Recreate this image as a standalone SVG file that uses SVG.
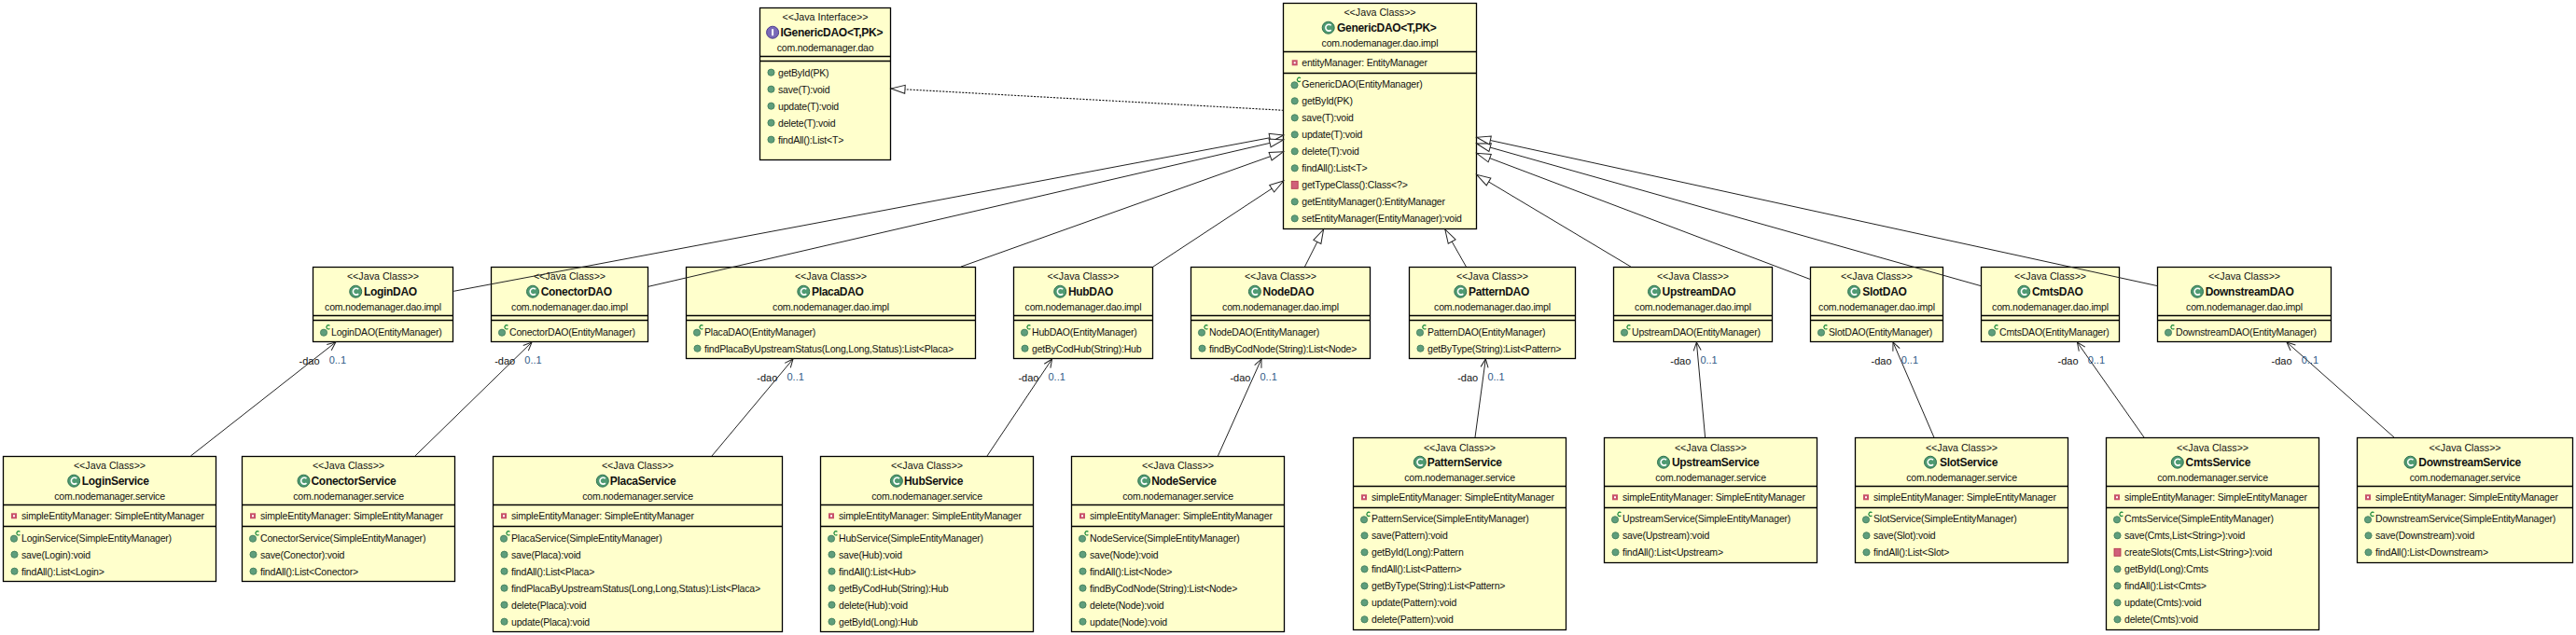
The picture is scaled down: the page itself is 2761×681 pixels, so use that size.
<svg xmlns="http://www.w3.org/2000/svg" width="2761" height="681" viewBox="0 0 2761 681">
<style>
text{font-family:"Liberation Sans",Arial,sans-serif;font-size:10.5px;letter-spacing:-.2px;fill:#111}
.c,.s{text-anchor:middle}
.s{font-size:10.7px;letter-spacing:0}
.n{font-weight:bold;font-size:12px;letter-spacing:-.3px}
.l,.m{font-size:11px;letter-spacing:0}
.m{fill:#2f5a86}
.box{fill:#ffc;stroke:#000;stroke-width:1.3}
.sep{stroke:#000;stroke-width:1.3}
.gen{fill:none;stroke:#222;stroke-width:1;marker-end:url(#tri)}
.real{fill:none;stroke:#111;stroke-width:1.1;stroke-dasharray:2 1.5;marker-end:url(#tri)}
.nav{fill:none;stroke:#222;stroke-width:1;marker-end:url(#open)}
</style>
<defs>
<marker id="tri" markerUnits="userSpaceOnUse" markerWidth="18" markerHeight="12" refX="16" refY="6" orient="auto"><path d="M16,6 L1,1.5 L1,10.5 Z" fill="#fff" stroke="#222"/></marker>
<marker id="open" markerUnits="userSpaceOnUse" markerWidth="12" markerHeight="12" refX="11" refY="6" orient="auto"><path d="M2,2 L11,6 L2,10" fill="none" stroke="#222"/></marker>
<g id="pub"><circle r="3.6" fill="#5f9e7c" stroke="#3d7a58" stroke-width="0.8"/></g>
<g id="ctor"><circle r="3.6" cy="1" fill="#5f9e7c" stroke="#3d7a58" stroke-width="0.8"/><path d="M6.4,-6.4 A2,2.2 0 1 0 6.4,-3.4" fill="none" stroke="#1a8a3a" stroke-width="1.2"/></g>
<g id="fld"><rect x="-3" y="-3" width="6" height="6" fill="#c8506a"/><rect x="-1" y="-1" width="2" height="2" fill="#fff"/></g>
<g id="prv"><rect x="-3.5" y="-4" width="7" height="8" fill="#d0607a" stroke="#b03048" stroke-width="0.8"/></g>
<g id="cls"><circle r="6.5" fill="#4f9a72" stroke="#2f7050"/><path d="M3,-2.4 A3.4,3.4 0 1 0 3,2.4" fill="none" stroke="#fff" stroke-width="1.6"/></g>
<g id="ifc"><circle r="6.5" fill="#7a6ab8" stroke="#4a3a90"/><path d="M0,-3.5 V3.5" stroke="#fff" stroke-width="2"/></g>
</defs>

<g id="IGenericDAO">
<rect class="box" x="814.5" y="8.5" width="140" height="163"/>
<line class="sep" x1="814.5" x2="954.5" y1="60.5" y2="60.5"/><line class="sep" x1="814.5" x2="954.5" y1="65.5" y2="65.5"/>
<text class="s" x="884.5" y="22">&lt;&lt;Java Interface&gt;&gt;</text>
<use href="#ifc" x="828.1" y="34.7"/><text class="n" x="836.5" y="39">IGenericDAO&lt;T,PK&gt;</text>
<text class="c" x="884.5" y="55">com.nodemanager.dao</text>
<use href="#pub" x="826.5" y="77.7"/><text x="834" y="81.7">getById(PK)</text>
<use href="#pub" x="826.5" y="95.7"/><text x="834" y="99.7">save(T):void</text>
<use href="#pub" x="826.5" y="113.7"/><text x="834" y="117.7">update(T):void</text>
<use href="#pub" x="826.5" y="131.7"/><text x="834" y="135.7">delete(T):void</text>
<use href="#pub" x="826.5" y="149.7"/><text x="834" y="153.7">findAll():List&lt;T&gt;</text>
</g>

<g id="GenericDAO">
<rect class="box" x="1375.5" y="3.5" width="207" height="242"/>
<line class="sep" x1="1375.5" x2="1582.5" y1="55.5" y2="55.5"/><line class="sep" x1="1375.5" x2="1582.5" y1="78.5" y2="78.5"/>
<text class="s" x="1479" y="17">&lt;&lt;Java Class&gt;&gt;</text>
<use href="#cls" x="1423.7" y="29.7"/><text class="n" x="1433" y="34">GenericDAO&lt;T,PK&gt;</text>
<text class="c" x="1479" y="50">com.nodemanager.dao.impl</text>
<use href="#fld" x="1387.7" y="67.3"/><text x="1395.3" y="71.3">entityManager: EntityManager</text>
<use href="#ctor" x="1387.5" y="90.3"/><text x="1395.3" y="94.3">GenericDAO(EntityManager)</text>
<use href="#pub" x="1387.7" y="108.3"/><text x="1395.3" y="112.3">getById(PK)</text>
<use href="#pub" x="1387.7" y="126.3"/><text x="1395.3" y="130.3">save(T):void</text>
<use href="#pub" x="1387.7" y="144.3"/><text x="1395.3" y="148.3">update(T):void</text>
<use href="#pub" x="1387.7" y="162.3"/><text x="1395.3" y="166.3">delete(T):void</text>
<use href="#pub" x="1387.7" y="180.3"/><text x="1395.3" y="184.3">findAll():List&lt;T&gt;</text>
<use href="#prv" x="1387.7" y="198.3"/><text x="1395.3" y="202.3">getTypeClass():Class&lt;?&gt;</text>
<use href="#pub" x="1387.7" y="216.3"/><text x="1395.3" y="220.3">getEntityManager():EntityManager</text>
<use href="#pub" x="1387.7" y="234.3"/><text x="1395.3" y="238.3">setEntityManager(EntityManager):void</text>
</g>

<g id="LoginDAO">
<rect class="box" x="335.5" y="286.5" width="150" height="80"/>
<line class="sep" x1="335.5" x2="485.5" y1="338.5" y2="338.5"/><line class="sep" x1="335.5" x2="485.5" y1="343.5" y2="343.5"/>
<text class="s" x="410.5" y="300.3">&lt;&lt;Java Class&gt;&gt;</text>
<use href="#cls" x="381.2" y="312.7"/><text class="n" x="389.9" y="317">LoginDAO</text>
<text class="c" x="410.5" y="333">com.nodemanager.dao.impl</text>
<use href="#ctor" x="347" y="355.7"/><text x="355" y="359.7">LoginDAO(EntityManager)</text>
</g>

<g id="ConectorDAO">
<rect class="box" x="526.5" y="286.5" width="168" height="80"/>
<line class="sep" x1="526.5" x2="694.5" y1="338.5" y2="338.5"/><line class="sep" x1="526.5" x2="694.5" y1="343.5" y2="343.5"/>
<text class="s" x="610.5" y="300.3">&lt;&lt;Java Class&gt;&gt;</text>
<use href="#cls" x="571" y="312.7"/><text class="n" x="579.7" y="317">ConectorDAO</text>
<text class="c" x="610.5" y="333">com.nodemanager.dao.impl</text>
<use href="#ctor" x="538" y="355.7"/><text x="546" y="359.7">ConectorDAO(EntityManager)</text>
</g>

<g id="PlacaDAO">
<rect class="box" x="735.5" y="286.5" width="310" height="98"/>
<line class="sep" x1="735.5" x2="1045.5" y1="338.5" y2="338.5"/><line class="sep" x1="735.5" x2="1045.5" y1="343.5" y2="343.5"/>
<text class="s" x="890.5" y="300.3">&lt;&lt;Java Class&gt;&gt;</text>
<use href="#cls" x="861.3" y="312.7"/><text class="n" x="870" y="317">PlacaDAO</text>
<text class="c" x="890.5" y="333">com.nodemanager.dao.impl</text>
<use href="#ctor" x="747" y="355.7"/><text x="755" y="359.7">PlacaDAO(EntityManager)</text>
<use href="#pub" x="747.5" y="373.7"/><text x="755" y="377.7">findPlacaByUpstreamStatus(Long,Long,Status):List&lt;Placa&gt;</text>
</g>

<g id="HubDAO">
<rect class="box" x="1086.5" y="286.5" width="149" height="98"/>
<line class="sep" x1="1086.5" x2="1235.5" y1="338.5" y2="338.5"/><line class="sep" x1="1086.5" x2="1235.5" y1="343.5" y2="343.5"/>
<text class="s" x="1161" y="300.3">&lt;&lt;Java Class&gt;&gt;</text>
<use href="#cls" x="1136.2" y="312.7"/><text class="n" x="1144.9" y="317">HubDAO</text>
<text class="c" x="1161" y="333">com.nodemanager.dao.impl</text>
<use href="#ctor" x="1098" y="355.7"/><text x="1106" y="359.7">HubDAO(EntityManager)</text>
<use href="#pub" x="1098.5" y="373.7"/><text x="1106" y="377.7">getByCodHub(String):Hub</text>
</g>

<g id="NodeDAO">
<rect class="box" x="1276.5" y="286.5" width="192" height="98"/>
<line class="sep" x1="1276.5" x2="1468.5" y1="338.5" y2="338.5"/><line class="sep" x1="1276.5" x2="1468.5" y1="343.5" y2="343.5"/>
<text class="s" x="1372.5" y="300.3">&lt;&lt;Java Class&gt;&gt;</text>
<use href="#cls" x="1344.9" y="312.7"/><text class="n" x="1353.6" y="317">NodeDAO</text>
<text class="c" x="1372.5" y="333">com.nodemanager.dao.impl</text>
<use href="#ctor" x="1288" y="355.7"/><text x="1296" y="359.7">NodeDAO(EntityManager)</text>
<use href="#pub" x="1288.5" y="373.7"/><text x="1296" y="377.7">findByCodNode(String):List&lt;Node&gt;</text>
</g>

<g id="PatternDAO">
<rect class="box" x="1510.5" y="286.5" width="178" height="98"/>
<line class="sep" x1="1510.5" x2="1688.5" y1="338.5" y2="338.5"/><line class="sep" x1="1510.5" x2="1688.5" y1="343.5" y2="343.5"/>
<text class="s" x="1599.5" y="300.3">&lt;&lt;Java Class&gt;&gt;</text>
<use href="#cls" x="1565.3" y="312.7"/><text class="n" x="1574" y="317">PatternDAO</text>
<text class="c" x="1599.5" y="333">com.nodemanager.dao.impl</text>
<use href="#ctor" x="1522" y="355.7"/><text x="1530" y="359.7">PatternDAO(EntityManager)</text>
<use href="#pub" x="1522.5" y="373.7"/><text x="1530" y="377.7">getByType(String):List&lt;Pattern&gt;</text>
</g>

<g id="UpstreamDAO">
<rect class="box" x="1729.5" y="286.5" width="170" height="80"/>
<line class="sep" x1="1729.5" x2="1899.5" y1="338.5" y2="338.5"/><line class="sep" x1="1729.5" x2="1899.5" y1="343.5" y2="343.5"/>
<text class="s" x="1814.5" y="300.3">&lt;&lt;Java Class&gt;&gt;</text>
<use href="#cls" x="1773" y="312.7"/><text class="n" x="1781.6" y="317">UpstreamDAO</text>
<text class="c" x="1814.5" y="333">com.nodemanager.dao.impl</text>
<use href="#ctor" x="1741" y="355.7"/><text x="1749" y="359.7">UpstreamDAO(EntityManager)</text>
</g>

<g id="SlotDAO">
<rect class="box" x="1940.5" y="286.5" width="142" height="80"/>
<line class="sep" x1="1940.5" x2="2082.5" y1="338.5" y2="338.5"/><line class="sep" x1="1940.5" x2="2082.5" y1="343.5" y2="343.5"/>
<text class="s" x="2011.5" y="300.3">&lt;&lt;Java Class&gt;&gt;</text>
<use href="#cls" x="1987.1" y="312.7"/><text class="n" x="1996.3" y="317">SlotDAO</text>
<text class="c" x="2011.5" y="333">com.nodemanager.dao.impl</text>
<use href="#ctor" x="1952" y="355.7"/><text x="1960" y="359.7">SlotDAO(EntityManager)</text>
</g>

<g id="CmtsDAO">
<rect class="box" x="2123.5" y="286.5" width="148" height="80"/>
<line class="sep" x1="2123.5" x2="2271.5" y1="338.5" y2="338.5"/><line class="sep" x1="2123.5" x2="2271.5" y1="343.5" y2="343.5"/>
<text class="s" x="2197.5" y="300.3">&lt;&lt;Java Class&gt;&gt;</text>
<use href="#cls" x="2169.3" y="312.7"/><text class="n" x="2178" y="317">CmtsDAO</text>
<text class="c" x="2197.5" y="333">com.nodemanager.dao.impl</text>
<use href="#ctor" x="2135" y="355.7"/><text x="2143" y="359.7">CmtsDAO(EntityManager)</text>
</g>

<g id="DownstreamDAO">
<rect class="box" x="2312.5" y="286.5" width="186" height="80"/>
<line class="sep" x1="2312.5" x2="2498.5" y1="338.5" y2="338.5"/><line class="sep" x1="2312.5" x2="2498.5" y1="343.5" y2="343.5"/>
<text class="s" x="2405.5" y="300.3">&lt;&lt;Java Class&gt;&gt;</text>
<use href="#cls" x="2355" y="312.7"/><text class="n" x="2363.7" y="317">DownstreamDAO</text>
<text class="c" x="2405.5" y="333">com.nodemanager.dao.impl</text>
<use href="#ctor" x="2324" y="355.7"/><text x="2332" y="359.7">DownstreamDAO(EntityManager)</text>
</g>

<g id="LoginService">
<rect class="box" x="3.5" y="489.5" width="228" height="134"/>
<line class="sep" x1="3.5" x2="231.5" y1="541.5" y2="541.5"/><line class="sep" x1="3.5" x2="231.5" y1="564.5" y2="564.5"/>
<text class="s" x="117.5" y="503.3">&lt;&lt;Java Class&gt;&gt;</text>
<use href="#cls" x="79.2" y="515.7"/><text class="n" x="87.8" y="520">LoginService</text>
<text class="c" x="117.5" y="536">com.nodemanager.service</text>
<use href="#fld" x="15" y="553.3"/><text x="23" y="557.3">simpleEntityManager: SimpleEntityManager</text>
<use href="#ctor" x="15" y="576.7"/><text x="23" y="580.7">LoginService(SimpleEntityManager)</text>
<use href="#pub" x="15.5" y="594.7"/><text x="23" y="598.7">save(Login):void</text>
<use href="#pub" x="15.5" y="612.7"/><text x="23" y="616.7">findAll():List&lt;Login&gt;</text>
</g>

<g id="ConectorService">
<rect class="box" x="259.5" y="489.5" width="228" height="134"/>
<line class="sep" x1="259.5" x2="487.5" y1="541.5" y2="541.5"/><line class="sep" x1="259.5" x2="487.5" y1="564.5" y2="564.5"/>
<text class="s" x="373.5" y="503.3">&lt;&lt;Java Class&gt;&gt;</text>
<use href="#cls" x="325.5" y="515.7"/><text class="n" x="333.5" y="520">ConectorService</text>
<text class="c" x="373.5" y="536">com.nodemanager.service</text>
<use href="#fld" x="271" y="553.3"/><text x="279" y="557.3">simpleEntityManager: SimpleEntityManager</text>
<use href="#ctor" x="271" y="576.7"/><text x="279" y="580.7">ConectorService(SimpleEntityManager)</text>
<use href="#pub" x="271.5" y="594.7"/><text x="279" y="598.7">save(Conector):void</text>
<use href="#pub" x="271.5" y="612.7"/><text x="279" y="616.7">findAll():List&lt;Conector&gt;</text>
</g>

<g id="PlacaService">
<rect class="box" x="528.5" y="489.5" width="310" height="188"/>
<line class="sep" x1="528.5" x2="838.5" y1="541.5" y2="541.5"/><line class="sep" x1="528.5" x2="838.5" y1="564.5" y2="564.5"/>
<text class="s" x="683.5" y="503.3">&lt;&lt;Java Class&gt;&gt;</text>
<use href="#cls" x="645.8" y="515.7"/><text class="n" x="653.8" y="520">PlacaService</text>
<text class="c" x="683.5" y="536">com.nodemanager.service</text>
<use href="#fld" x="540" y="553.3"/><text x="548" y="557.3">simpleEntityManager: SimpleEntityManager</text>
<use href="#ctor" x="540" y="576.7"/><text x="548" y="580.7">PlacaService(SimpleEntityManager)</text>
<use href="#pub" x="540.5" y="594.7"/><text x="548" y="598.7">save(Placa):void</text>
<use href="#pub" x="540.5" y="612.7"/><text x="548" y="616.7">findAll():List&lt;Placa&gt;</text>
<use href="#pub" x="540.5" y="630.7"/><text x="548" y="634.7">findPlacaByUpstreamStatus(Long,Long,Status):List&lt;Placa&gt;</text>
<use href="#pub" x="540.5" y="648.7"/><text x="548" y="652.7">delete(Placa):void</text>
<use href="#pub" x="540.5" y="666.7"/><text x="548" y="670.7">update(Placa):void</text>
</g>

<g id="HubService">
<rect class="box" x="879.5" y="489.5" width="228" height="188"/>
<line class="sep" x1="879.5" x2="1107.5" y1="541.5" y2="541.5"/><line class="sep" x1="879.5" x2="1107.5" y1="564.5" y2="564.5"/>
<text class="s" x="993.5" y="503.3">&lt;&lt;Java Class&gt;&gt;</text>
<use href="#cls" x="960.9" y="515.7"/><text class="n" x="969" y="520">HubService</text>
<text class="c" x="993.5" y="536">com.nodemanager.service</text>
<use href="#fld" x="891" y="553.3"/><text x="899" y="557.3">simpleEntityManager: SimpleEntityManager</text>
<use href="#ctor" x="891" y="576.7"/><text x="899" y="580.7">HubService(SimpleEntityManager)</text>
<use href="#pub" x="891.5" y="594.7"/><text x="899" y="598.7">save(Hub):void</text>
<use href="#pub" x="891.5" y="612.7"/><text x="899" y="616.7">findAll():List&lt;Hub&gt;</text>
<use href="#pub" x="891.5" y="630.7"/><text x="899" y="634.7">getByCodHub(String):Hub</text>
<use href="#pub" x="891.5" y="648.7"/><text x="899" y="652.7">delete(Hub):void</text>
<use href="#pub" x="891.5" y="666.7"/><text x="899" y="670.7">getById(Long):Hub</text>
</g>

<g id="NodeService">
<rect class="box" x="1148.5" y="489.5" width="228" height="188"/>
<line class="sep" x1="1148.5" x2="1376.5" y1="541.5" y2="541.5"/><line class="sep" x1="1148.5" x2="1376.5" y1="564.5" y2="564.5"/>
<text class="s" x="1262.5" y="503.3">&lt;&lt;Java Class&gt;&gt;</text>
<use href="#cls" x="1226.2" y="515.7"/><text class="n" x="1234.2" y="520">NodeService</text>
<text class="c" x="1262.5" y="536">com.nodemanager.service</text>
<use href="#fld" x="1160" y="553.3"/><text x="1168" y="557.3">simpleEntityManager: SimpleEntityManager</text>
<use href="#ctor" x="1160" y="576.7"/><text x="1168" y="580.7">NodeService(SimpleEntityManager)</text>
<use href="#pub" x="1160.5" y="594.7"/><text x="1168" y="598.7">save(Node):void</text>
<use href="#pub" x="1160.5" y="612.7"/><text x="1168" y="616.7">findAll():List&lt;Node&gt;</text>
<use href="#pub" x="1160.5" y="630.7"/><text x="1168" y="634.7">findByCodNode(String):List&lt;Node&gt;</text>
<use href="#pub" x="1160.5" y="648.7"/><text x="1168" y="652.7">delete(Node):void</text>
<use href="#pub" x="1160.5" y="666.7"/><text x="1168" y="670.7">update(Node):void</text>
</g>

<g id="PatternService">
<rect class="box" x="1450.5" y="469.5" width="228" height="206"/>
<line class="sep" x1="1450.5" x2="1678.5" y1="521.5" y2="521.5"/><line class="sep" x1="1450.5" x2="1678.5" y1="544.5" y2="544.5"/>
<text class="s" x="1564.5" y="483.5">&lt;&lt;Java Class&gt;&gt;</text>
<use href="#cls" x="1521.8" y="495.7"/><text class="n" x="1529.8" y="500">PatternService</text>
<text class="c" x="1564.5" y="516">com.nodemanager.service</text>
<use href="#fld" x="1462" y="533.3"/><text x="1470" y="537.3">simpleEntityManager: SimpleEntityManager</text>
<use href="#ctor" x="1462" y="556.3"/><text x="1470" y="560.3">PatternService(SimpleEntityManager)</text>
<use href="#pub" x="1462.5" y="574.3"/><text x="1470" y="578.3">save(Pattern):void</text>
<use href="#pub" x="1462.5" y="592.3"/><text x="1470" y="596.3">getById(Long):Pattern</text>
<use href="#pub" x="1462.5" y="610.3"/><text x="1470" y="614.3">findAll():List&lt;Pattern&gt;</text>
<use href="#pub" x="1462.5" y="628.3"/><text x="1470" y="632.3">getByType(String):List&lt;Pattern&gt;</text>
<use href="#pub" x="1462.5" y="646.3"/><text x="1470" y="650.3">update(Pattern):void</text>
<use href="#pub" x="1462.5" y="664.3"/><text x="1470" y="668.3">delete(Pattern):void</text>
</g>

<g id="UpstreamService">
<rect class="box" x="1719.5" y="469.5" width="228" height="134"/>
<line class="sep" x1="1719.5" x2="1947.5" y1="521.5" y2="521.5"/><line class="sep" x1="1719.5" x2="1947.5" y1="544.5" y2="544.5"/>
<text class="s" x="1833.5" y="483.5">&lt;&lt;Java Class&gt;&gt;</text>
<use href="#cls" x="1783" y="495.7"/><text class="n" x="1791.9" y="500">UpstreamService</text>
<text class="c" x="1833.5" y="516">com.nodemanager.service</text>
<use href="#fld" x="1731" y="533.3"/><text x="1739" y="537.3">simpleEntityManager: SimpleEntityManager</text>
<use href="#ctor" x="1731" y="556.3"/><text x="1739" y="560.3">UpstreamService(SimpleEntityManager)</text>
<use href="#pub" x="1731.5" y="574.3"/><text x="1739" y="578.3">save(Upstream):void</text>
<use href="#pub" x="1731.5" y="592.3"/><text x="1739" y="596.3">findAll():List&lt;Upstream&gt;</text>
</g>

<g id="SlotService">
<rect class="box" x="1988.5" y="469.5" width="228" height="134"/>
<line class="sep" x1="1988.5" x2="2216.5" y1="521.5" y2="521.5"/><line class="sep" x1="1988.5" x2="2216.5" y1="544.5" y2="544.5"/>
<text class="s" x="2102.5" y="483.5">&lt;&lt;Java Class&gt;&gt;</text>
<use href="#cls" x="2069" y="495.7"/><text class="n" x="2079" y="500">SlotService</text>
<text class="c" x="2102.5" y="516">com.nodemanager.service</text>
<use href="#fld" x="2000" y="533.3"/><text x="2008" y="537.3">simpleEntityManager: SimpleEntityManager</text>
<use href="#ctor" x="2000" y="556.3"/><text x="2008" y="560.3">SlotService(SimpleEntityManager)</text>
<use href="#pub" x="2000.5" y="574.3"/><text x="2008" y="578.3">save(Slot):void</text>
<use href="#pub" x="2000.5" y="592.3"/><text x="2008" y="596.3">findAll():List&lt;Slot&gt;</text>
</g>

<g id="CmtsService">
<rect class="box" x="2257.5" y="469.5" width="228" height="206"/>
<line class="sep" x1="2257.5" x2="2485.5" y1="521.5" y2="521.5"/><line class="sep" x1="2257.5" x2="2485.5" y1="544.5" y2="544.5"/>
<text class="s" x="2371.5" y="483.5">&lt;&lt;Java Class&gt;&gt;</text>
<use href="#cls" x="2333.8" y="495.7"/><text class="n" x="2342.6" y="500">CmtsService</text>
<text class="c" x="2371.5" y="516">com.nodemanager.service</text>
<use href="#fld" x="2269" y="533.3"/><text x="2277" y="537.3">simpleEntityManager: SimpleEntityManager</text>
<use href="#ctor" x="2269" y="556.3"/><text x="2277" y="560.3">CmtsService(SimpleEntityManager)</text>
<use href="#pub" x="2269.5" y="574.3"/><text x="2277" y="578.3">save(Cmts,List&lt;String&gt;):void</text>
<use href="#prv" x="2269.5" y="592.3"/><text x="2277" y="596.3">createSlots(Cmts,List&lt;String&gt;):void</text>
<use href="#pub" x="2269.5" y="610.3"/><text x="2277" y="614.3">getById(Long):Cmts</text>
<use href="#pub" x="2269.5" y="628.3"/><text x="2277" y="632.3">findAll():List&lt;Cmts&gt;</text>
<use href="#pub" x="2269.5" y="646.3"/><text x="2277" y="650.3">update(Cmts):void</text>
<use href="#pub" x="2269.5" y="664.3"/><text x="2277" y="668.3">delete(Cmts):void</text>
</g>

<g id="DownstreamService">
<rect class="box" x="2526.5" y="469.5" width="231" height="134"/>
<line class="sep" x1="2526.5" x2="2757.5" y1="521.5" y2="521.5"/><line class="sep" x1="2526.5" x2="2757.5" y1="544.5" y2="544.5"/>
<text class="s" x="2642" y="483.5">&lt;&lt;Java Class&gt;&gt;</text>
<use href="#cls" x="2583.5" y="495.7"/><text class="n" x="2592.3" y="500">DownstreamService</text>
<text class="c" x="2642" y="516">com.nodemanager.service</text>
<use href="#fld" x="2538" y="533.3"/><text x="2546" y="537.3">simpleEntityManager: SimpleEntityManager</text>
<use href="#ctor" x="2538" y="556.3"/><text x="2546" y="560.3">DownstreamService(SimpleEntityManager)</text>
<use href="#pub" x="2538.5" y="574.3"/><text x="2546" y="578.3">save(Downstream):void</text>
<use href="#pub" x="2538.5" y="592.3"/><text x="2546" y="596.3">findAll():List&lt;Downstream&gt;</text>
</g>

<g id="connectors">
<line class="real" x1="1375.7" y1="118.3" x2="955" y2="95"/>
<line class="gen" x1="486.3" y1="312.3" x2="1375.7" y2="145"/>
<line class="gen" x1="695" y1="307.3" x2="1375.7" y2="150"/>
<line class="gen" x1="1030" y1="286" x2="1375.7" y2="162.7"/>
<line class="gen" x1="1236" y1="286" x2="1375.7" y2="194"/>
<line class="gen" x1="1398.5" y1="286" x2="1418.6" y2="246"/>
<line class="gen" x1="1571.4" y1="286" x2="1548.8" y2="246"/>
<line class="gen" x1="1747.9" y1="286" x2="1582.7" y2="187.3"/>
<line class="gen" x1="1940.7" y1="299.7" x2="1582.7" y2="164.3"/>
<line class="gen" x1="2123.4" y1="306.7" x2="1582.7" y2="154"/>
<line class="gen" x1="2312.7" y1="306.7" x2="1582.7" y2="147.3"/>
<line class="nav" x1="204.4" y1="489" x2="359.8" y2="367"/>
<line class="nav" x1="444.9" y1="489" x2="570" y2="367"/>
<line class="nav" x1="763" y1="489" x2="850" y2="385"/>
<line class="nav" x1="1058" y1="489" x2="1127.6" y2="385"/>
<line class="nav" x1="1305.4" y1="489" x2="1352" y2="385"/>
<line class="nav" x1="1581" y1="469" x2="1592.3" y2="385"/>
<line class="nav" x1="1827.6" y1="469" x2="1818.4" y2="367"/>
<line class="nav" x1="2072.9" y1="469" x2="2029" y2="367"/>
<line class="nav" x1="2298" y1="469" x2="2226.4" y2="367"/>
<line class="nav" x1="2566" y1="469" x2="2451" y2="367"/>
</g>

<g id="labels">
<text class="l" x="320.5" y="391">-dao</text><text class="m" x="352.7" y="390">0..1</text>
<text class="l" x="530.2" y="391">-dao</text><text class="m" x="562.3" y="390">0..1</text>
<text class="l" x="811.3" y="409">-dao</text><text class="m" x="843.5" y="408">0..1</text>
<text class="l" x="1091.4" y="409">-dao</text><text class="m" x="1123.5" y="408">0..1</text>
<text class="l" x="1318.4" y="409">-dao</text><text class="m" x="1350.5" y="408">0..1</text>
<text class="l" x="1562.2" y="409">-dao</text><text class="m" x="1594.4" y="408">0..1</text>
<text class="l" x="1790.3" y="391">-dao</text><text class="m" x="1822.4" y="390">0..1</text>
<text class="l" x="2005.5" y="391">-dao</text><text class="m" x="2037.7" y="390">0..1</text>
<text class="l" x="2205.5" y="391">-dao</text><text class="m" x="2237.7" y="390">0..1</text>
<text class="l" x="2434.6" y="391">-dao</text><text class="m" x="2466.7" y="390">0..1</text>
</g>
</svg>
